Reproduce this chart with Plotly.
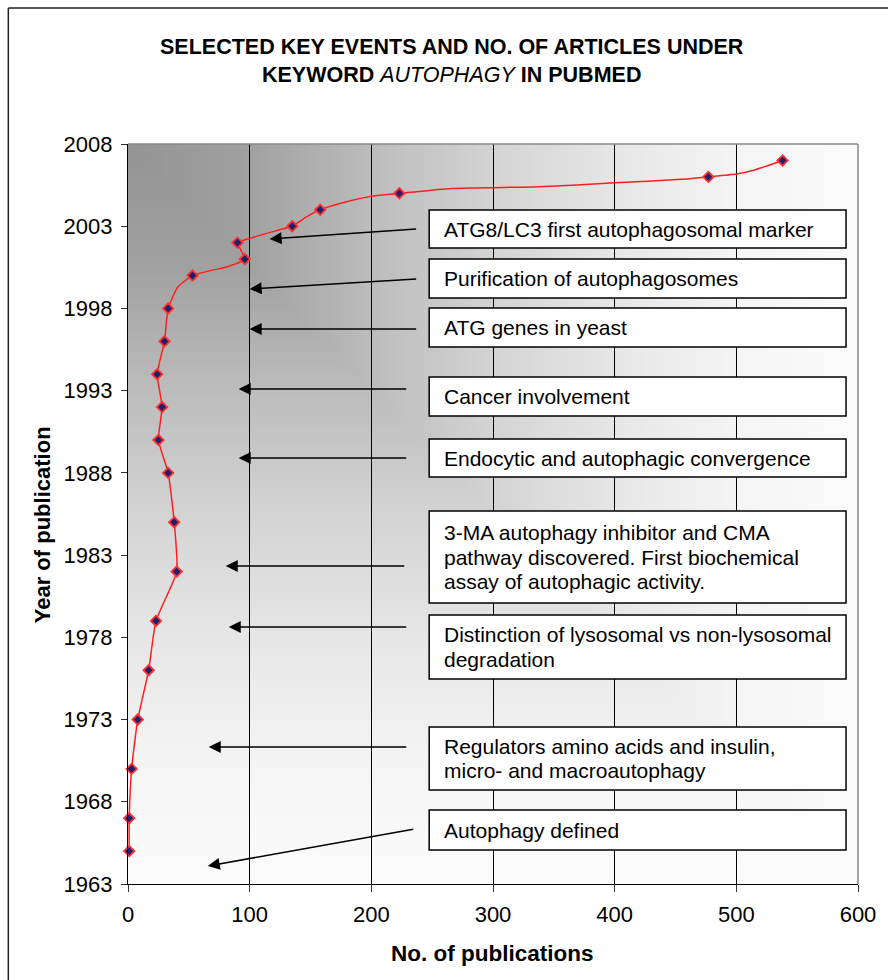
import base64, struct, zlib
import numpy as np
import plotly.graph_objects as go

# ---------------- data ----------------
marker_years = [1965, 1967, 1970, 1973, 1976, 1979, 1982, 1985, 1988, 1990, 1992,
                1994, 1996, 1998, 2000, 2001, 2002, 2003, 2004, 2005, 2006, 2007]
marker_counts = [1, 1, 3, 8, 17, 23, 40, 38, 33, 25, 28,
                 24, 30, 33, 53, 96, 90, 135, 158, 223, 477, 538]

# the red curve passes through the markers plus a few unmarked points
line_years = [1965, 1967, 1970, 1973, 1976, 1979, 1982, 1985, 1988, 1990, 1992,
              1994, 1996, 1998, 1999.3, 2000, 2000.57, 2001, 2002, 2002.22, 2002.77,
              2003, 2003.54, 2004, 2004.53, 2004.83, 2005, 2005.3, 2005.4, 2005.64,
              2005.85, 2006, 2006.17, 2006.42, 2007]
line_counts = [1, 1, 3, 8, 17, 23, 40, 38, 33, 25, 28,
               24, 30, 33, 41, 53, 83, 96, 90, 98, 124,
               135, 146, 158, 182, 201, 223, 266, 338, 400,
               455, 477, 500, 515, 538]

x_ticks = [0, 100, 200, 300, 400, 500, 600]
y_ticks = [1963, 1968, 1973, 1978, 1983, 1988, 1993, 1998, 2003, 2008]

event_lines = [
    ["ATG8/LC3 first autophagosomal marker"],
    ["Purification of autophagosomes"],
    ["ATG genes in yeast"],
    ["Cancer involvement"],
    ["Endocytic and autophagic convergence"],
    ["3-MA autophagy inhibitor and CMA", "pathway discovered. First biochemical",
     "assay of autophagic activity."],
    ["Distinction of lysosomal vs non-lysosomal", "degradation"],
    ["Regulators amino acids and insulin,", "micro- and macroautophagy"],
    ["Autophagy defined"],
]

# ---------------- layout geometry (pixels) ----------------
L, T, W, H = 128, 144, 732, 740
FIG_W, FIG_H = 888, 980


def px(x):
    return (x - L) / W


def py(y):
    return 1 - (y - T) / H


# box top/bottom in pixels
box_tb = [(210, 248), (259, 298), (308, 347), (377, 416), (439, 477),
          (511, 603), (615, 679), (727, 790), (810, 850)]
box_x0, box_x1 = 430, 848
text_x = 443
line_gap = 24.3
# arrows: tip x, tip y, tail x, tail y
arrows = [(270, 239, 418, 229), (250, 289, 418, 279), (250, 329, 418, 329),
          (239, 389, 408, 389), (239, 458, 408, 458), (226, 566, 406, 566),
          (229, 627, 408, 627), (209, 747, 408, 747), (208, 866, 415, 829)]

FONT = "Liberation Sans, Arial, sans-serif"


# ---------------- gradient background image ----------------
def png_uri(arr):
    h, w = arr.shape
    raw = b"".join(b"\x00" + arr[i].tobytes() for i in range(h))

    def chunk(tag, data):
        c = struct.pack(">I", len(data)) + tag + data
        return c + struct.pack(">I", zlib.crc32(tag + data) & 0xFFFFFFFF)

    png = (b"\x89PNG\r\n\x1a\n"
           + chunk(b"IHDR", struct.pack(">IIBBBBB", w, h, 8, 0, 0, 0, 0))
           + chunk(b"IDAT", zlib.compress(raw, 9))
           + chunk(b"IEND", b""))
    return "data:image/png;base64," + base64.b64encode(png).decode()


u = np.linspace(0, 1, W)[None, :]
v = np.linspace(0, 1, H)[:, None]
t = np.maximum(u, v)
stops = [0, 0.17, 0.33, 0.5, 0.67, 0.84, 1.0]
levels = [148, 162, 188, 212, 231, 245, 252]
grad = np.interp(t, stops, levels).astype(np.uint8)
bg_uri = png_uri(grad)

# ---------------- figure ----------------
fig = go.Figure()
fig.add_trace(go.Scatter(
    x=line_counts, y=line_years, mode="lines",
    line=dict(color="#ff1f1f", width=1.5, shape="spline", smoothing=0.5),
    hoverinfo="skip", showlegend=False))
fig.add_trace(go.Scatter(
    x=marker_counts, y=marker_years, mode="markers",
    marker=dict(symbol="diamond", size=8, color="#1f1f6e",
                line=dict(color="#ff3030", width=1.8)),
    showlegend=False, cliponaxis=False))

shapes = []
annotations = []

for (top, bot), lines in zip(box_tb, event_lines):
    shapes.append(dict(type="rect", xref="paper", yref="paper",
                       x0=px(box_x0), x1=px(box_x1), y0=py(bot), y1=py(top),
                       fillcolor="white", line=dict(color="black", width=1.5),
                       layer="above"))
    mid = (top + bot) / 2
    n = len(lines)
    for i, s in enumerate(lines):
        yc = mid + (i - (n - 1) / 2) * line_gap
        annotations.append(dict(xref="paper", yref="paper", x=px(text_x), y=py(yc),
                                xanchor="left", yanchor="middle", text=s,
                                showarrow=False,
                                font=dict(family=FONT, size=21, color="black")))

for tx, ty, sx, sy in arrows:
    annotations.append(dict(xref="paper", yref="paper", x=px(tx), y=py(ty),
                            ax=sx - tx, ay=sy - ty, axref="pixel", ayref="pixel",
                            text="", showarrow=True, arrowhead=2, arrowsize=1.6,
                            arrowwidth=1.5, arrowcolor="black", standoff=0))

# title
annotations.append(dict(xref="paper", yref="paper", x=px(453), y=py(61),
                        xanchor="center", yanchor="middle",
                        text="<b>SELECTED KEY EVENTS AND NO. OF ARTICLES UNDER</b><br>"
                             "<b>KEYWORD </b><i>AUTOPHAGY</i><b> IN PUBMED</b>",
                        showarrow=False,
                        font=dict(family=FONT, size=21.5, color="black")))
# axis titles
annotations.append(dict(xref="paper", yref="paper", x=px(493), y=py(954),
                        xanchor="center", yanchor="middle",
                        text="<b>No. of publications</b>", showarrow=False,
                        font=dict(family=FONT, size=22.5, color="black")))
annotations.append(dict(xref="paper", yref="paper", x=px(42), y=py(525),
                        xanchor="center", yanchor="middle", textangle=-90,
                        text="<b>Year of publication</b>", showarrow=False,
                        font=dict(family=FONT, size=22, color="black")))

# plot border (top, right) in gray
shapes.append(dict(type="line", xref="paper", yref="paper", x0=0, x1=1, y0=1, y1=1,
                   line=dict(color="#8a8a8a", width=1.5), layer="above"))
shapes.append(dict(type="line", xref="paper", yref="paper", x0=1, x1=1, y0=0, y1=1,
                   line=dict(color="#8a8a8a", width=1.5), layer="above"))
# outer frame (left, top)
shapes.append(dict(type="line", xref="paper", yref="paper",
                   x0=px(8), x1=px(8), y0=py(8), y1=py(FIG_H + 5),
                   line=dict(color="#222222", width=1.5)))
shapes.append(dict(type="line", xref="paper", yref="paper",
                   x0=px(8), x1=px(FIG_W + 5), y0=py(8), y1=py(8),
                   line=dict(color="#222222", width=1.5)))

fig.update_layout(
    width=FIG_W, height=FIG_H,
    margin=dict(l=L, r=FIG_W - L - W, t=T, b=FIG_H - T - H, pad=0),
    paper_bgcolor="white", plot_bgcolor="rgba(0,0,0,0)",
    font=dict(family=FONT, size=21, color="black"),
    shapes=shapes, annotations=annotations,
    images=[dict(source=bg_uri, xref="paper", yref="paper", x=0, y=1,
                 sizex=1, sizey=1, xanchor="left", yanchor="top",
                 sizing="stretch", layer="below")],
    xaxis=dict(range=[0, 600], tickvals=x_ticks, ticktext=[str(v) for v in x_ticks],
               showgrid=True, gridcolor="black", gridwidth=1, zeroline=False,
               showline=True, linecolor="black", linewidth=1.2,
               ticks="outside", ticklen=7, tickcolor="#333", tickwidth=1,
               ticklabelstandoff=3,
               tickfont=dict(family=FONT, size=22, color="black"), fixedrange=True),
    yaxis=dict(range=[1963, 2008], tickvals=y_ticks, ticktext=[str(v) for v in y_ticks],
               showgrid=False, zeroline=False,
               showline=True, linecolor="black", linewidth=1.2,
               ticks="outside", ticklen=6, tickcolor="#333", tickwidth=1,
               ticklabelstandoff=4,
               tickfont=dict(family=FONT, size=22, color="black"), fixedrange=True),
)

fig.write_html("out.html")
